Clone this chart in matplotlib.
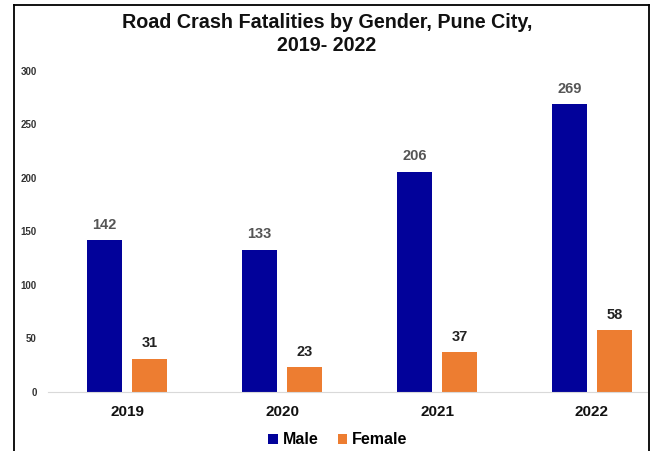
"""Road crash fatalities by gender, Pune City, 2019-2022."""
import matplotlib
matplotlib.use("Agg")
import matplotlib.pyplot as plt
from matplotlib.lines import Line2D
import numpy as np

plt.rcParams.update({
    "font.family": ["Liberation Sans", "DejaVu Sans"],
    "figure.dpi": 100,
})

years = ["2019", "2020", "2021", "2022"]
male = [142, 133, 206, 269]
female = [31, 23, 37, 58]
y_ticks = [0, 50, 100, 150, 200, 250, 300]

MALE_COLOR = "#02029a"
FEMALE_COLOR = "#ed7d31"

W, H = 654, 451
fig = plt.figure(figsize=(W / 100, H / 100))


def px_box(x0, y0, x1, y1):
    return [x0 / W, 1 - y1 / H, (x1 - x0) / W, (y1 - y0) / H]


ax = fig.add_axes(px_box(48, 71, 647, 392))

x = np.arange(len(years))
bw = 0.226
off = 0.145
bars_m = ax.bar(x - off, male, bw, color=MALE_COLOR, label="Male")
bars_f = ax.bar(x + off, female, bw, color=FEMALE_COLOR, label="Female")

for b, v in zip(bars_m, male):
    ax.annotate(str(v), (b.get_x() + b.get_width() / 2, v), xytext=(0, 6),
                textcoords="offset points", ha="center", va="bottom",
                fontsize=10.5, color="#555555", fontweight="bold")
for b, v in zip(bars_f, female):
    ax.annotate(str(v), (b.get_x() + b.get_width() / 2, v), xytext=(0, 6),
                textcoords="offset points", ha="center", va="bottom",
                fontsize=10.5, color="#222222", fontweight="bold")

ax.set_xlim(-0.51, 3.355)
ax.set_ylim(0, 300)
ax.set_xticks(x)
ax.set_xticklabels(years, fontsize=11, fontweight="bold", color="#111111")
ax.set_yticks(y_ticks)
ax.set_yticklabels([str(t) for t in y_ticks], fontsize=7, fontweight="bold",
                   color="#333333")
ax.tick_params(axis="both", length=0)
ax.tick_params(axis="y", pad=8)
ax.tick_params(axis="x", pad=9)
for side in ["top", "right", "left"]:
    ax.spines[side].set_visible(False)
ax.spines["bottom"].set_color("#d9d9d9")
ax.spines["bottom"].set_linewidth(0.8)

fig.text(0.5, 1 - 34 / H, "Road Crash Fatalities by Gender, Pune City,\n2019- 2022",
         ha="center", va="center", fontsize=14.2, fontweight="bold",
         linespacing=1.3, color="#111111")

fig.legend(handles=[bars_m, bars_f], labels=["Male", "Female"],
           loc="center", bbox_to_anchor=(338 / W, 1 - 440 / H), ncol=2,
           frameon=False, handlelength=0.6, handleheight=0.6,
           handletextpad=0.3, columnspacing=1.2,
           prop={"size": 11.5, "weight": "bold"})

# outer frame
frame = dict(color="black", linewidth=1.3, transform=fig.transFigure)
fig.lines.append(Line2D([14 / W, 14 / W], [0, 1 - 5 / H], **frame))
fig.lines.append(Line2D([14 / W, 649 / W], [1 - 5 / H, 1 - 5 / H], **frame))
fig.lines.append(Line2D([649 / W, 649 / W], [0, 1 - 5 / H], **frame))

fig.savefig("out.png", dpi=100)
plt.close(fig)
